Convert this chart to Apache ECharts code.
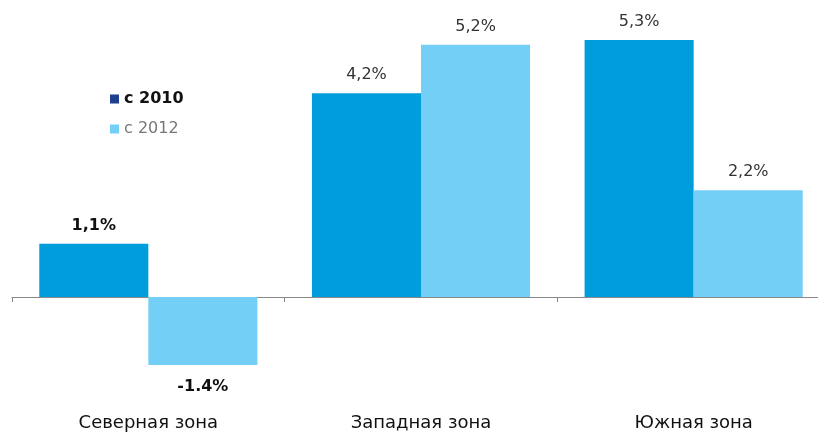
<!DOCTYPE html>
<html><head><meta charset="utf-8">
<script src="https://cdn.jsdelivr.net/npm/echarts@6/dist/echarts.min.js"></script>
<style>html,body{margin:0;padding:0;background:#fff;overflow:hidden;width:818px;height:432px}#c{width:830px;height:432px}</style>
</head><body><div id="c"></div>
<script>
const categories = ['Северная зона', 'Западная зона', 'Южная зона'];
const seriesNames = ['c 2010', 'c 2012'];
const values2010 = [1.1, 4.2, 5.3];
const values2012 = [-1.4, 5.2, 2.2];
const labels2010 = ['1,1%', '4,2%', '5,3%'];
const labels2012 = ['-1.4%', '5,2%', '2,2%'];
const boldCategory = [true, false, false];

const F = '"DejaVu Sans", Verdana, sans-serif';
function items(vals, labs) {
  return vals.map((v, i) => ({
    value: v,
    label: {
      show: true,
      position: v < 0 ? 'bottom' : 'top',
      distance: v < 0 ? 14 : 10,
      formatter: labs[i],
      fontFamily: F,
      fontSize: 16,
      fontWeight: boldCategory[i] ? 'bold' : 'normal',
      color: boldCategory[i] ? '#111' : '#333'
    }
  }));
}
const chart = echarts.init(document.getElementById('c'));
chart.setOption({
  animation: false,
  legend: {
    orient: 'vertical', left: 105, top: 86, itemWidth: 9, itemHeight: 9, itemGap: 14, icon: 'rect',
    data: [
      { name: seriesNames[0], itemStyle: { color: '#1d3f8e' }, textStyle: { fontWeight: 'bold', color: '#111', fontSize: 16 } },
      { name: seriesNames[1], itemStyle: { color: '#73cff5' }, textStyle: { color: '#777', fontSize: 16 } }
    ],
    textStyle: { fontFamily: F }
  },
  grid: { left: 12, top: 6, right: 0, height: 388, containLabel: false },
  xAxis: [
    { type: 'category', data: categories, position: 'bottom',
      axisLine: { show: false, onZero: false }, axisTick: { show: false },
      axisLabel: { margin: 20, fontFamily: F, fontSize: 18, color: '#111' } },
    { type: 'category', data: categories, position: 'bottom',
      axisLine: { show: true, onZero: true, lineStyle: { color: '#888' } },
      axisTick: { show: true, length: 5, lineStyle: { color: '#888' } },
      axisLabel: { show: false } }
  ],
  yAxis: { type: 'value', min: -2, max: 6, show: false, splitLine: { show: false } },
  series: [
    { name: seriesNames[0], type: 'bar', barGap: 0, barCategoryGap: '20%',
      itemStyle: { color: '#009ddc' }, data: items(values2010, labels2010) },
    { name: seriesNames[1], type: 'bar', barGap: 0, barCategoryGap: '20%',
      itemStyle: { color: '#73cff5' }, data: items(values2012, labels2012) }
  ]
});
</script></body></html>
